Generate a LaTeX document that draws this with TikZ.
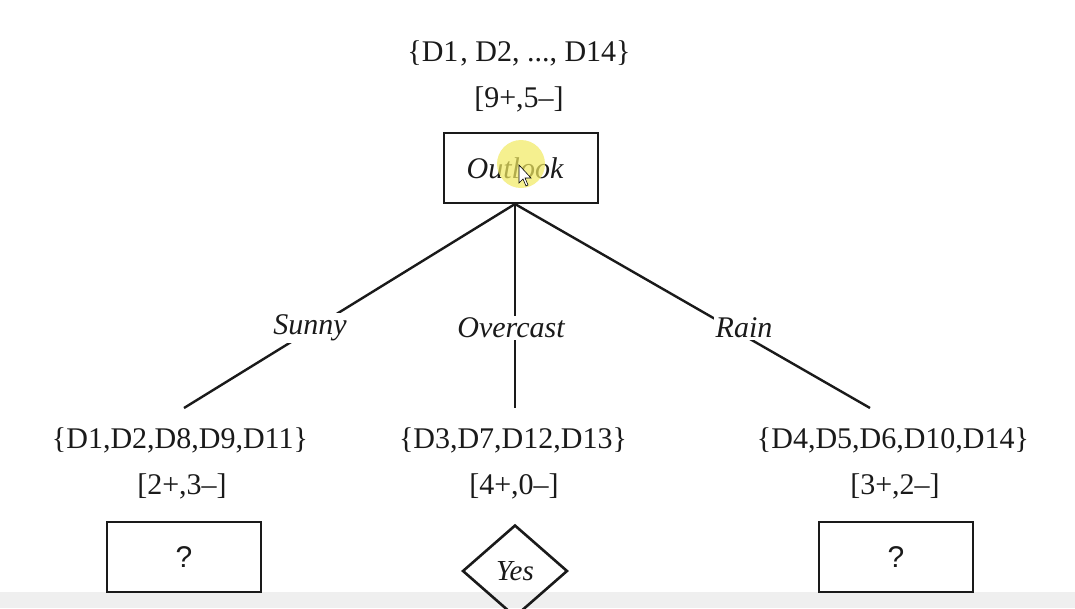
\documentclass[tikz,border=0pt]{standalone}
\usepackage{fontspec}
\setmainfont{Liberation Serif}
\newfontfamily\qfont{Liberation Sans}
\usetikzlibrary{shapes.geometric}
\definecolor{ink}{HTML}{1A1A1A}
\definecolor{hilite}{RGB}{242,234,96}
\definecolor{strip}{HTML}{EFEFEF}
\begin{document}
\begin{tikzpicture}[x=1pt,y=-1pt,
  txt/.style={inner sep=0pt, text=ink, font=\fontsize{30}{36}\selectfont},
  lbl/.style={inner sep=2pt, text=ink, fill=white, font=\fontsize{30}{36}\selectfont\itshape},
  box/.style={draw=ink, line width=2.6pt, minimum width=154pt, minimum height=70pt, inner sep=0pt, text=ink},
  leaf/.style={draw=ink, line width=2.6pt, diamond, minimum width=105pt, minimum height=92pt, inner sep=0pt, text=ink, font=\fontsize{29}{34}\selectfont\itshape},
  edge/.style={draw=ink, line width=2.4pt}]
\useasboundingbox (0,0) rectangle (1075,608);
\fill[white] (0,0) rectangle (1075,608);
\fill[strip] (0,592) rectangle (1075,608);

% root
\node[txt] (rootset) at (519,53) {\{D1\kern2pt, D2, ..., D14\}};
\node[txt] (rootcnt) at (519,99) {[9+,5--]};
\node[box, font=\fontsize{30}{36}\selectfont\itshape] (outlook) at (521,168) {\hspace*{-12pt}Outlook};
\coordinate (fork) at (515,204);

% branch ends
\coordinate (sunnyend) at (184,408);
\coordinate (overend) at (515,408);
\coordinate (rainend) at (870,408);

\draw[edge] (fork) -- (sunnyend);
\draw[edge] (fork) -- (overend);
\draw[edge] (fork) -- (rainend);

\node[lbl] (sunny) at (310,328) {Sunny};
\node[lbl] (overcast) at (511,328) {Overcast};
\node[lbl] (rain) at (744,328) {Rain};

% children
\node[txt] (sunnyset) at (180,440) {\{D1,D2,D8,D9,D11\}};
\node[txt] (sunnycnt) at (182,486) {[2+,3--]};
\node[box, font=\fontsize{30}{36}\qfont] (sunnybox) at (184,557) {?};

\node[txt] (overset) at (513,440) {\{D3,D7,D12,D13\}};
\node[txt] (overcnt) at (514,486) {[4+,0--]};
\node[leaf] (yes) at (515,571) {Yes};

\node[txt] (rainset) at (893,440) {\{D4,D5,D6,D10,D14\}};
\node[txt] (raincnt) at (895,486) {[3+,2--]};
\node[box, font=\fontsize{30}{36}\qfont] (rainbox) at (896,557) {?};

% screen-recording highlight and cursor
\fill[hilite, opacity=0.7] (521,164) circle (24);
\draw[black, line width=0.6pt, fill=white] (519,165) -- (519,183) -- (523,179) -- (526,186) -- (528,185) -- (525,178) -- (531,178) -- cycle;
\end{tikzpicture}
\end{document}
